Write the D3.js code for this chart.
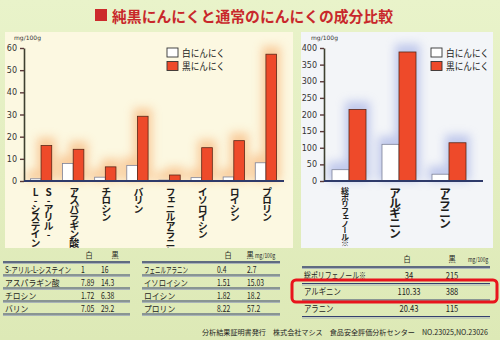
<!DOCTYPE html>
<html>
<head>
<meta charset="utf-8">
<script src="https://cdn.jsdelivr.net/npm/d3@7"></script>
<style>
body { margin: 0; background: #e3efc0; }
svg { display: block; font-family: "Noto Sans CJK JP", sans-serif; }
</style>
</head>
<body>
<script>
// values (mg/100g)
var catsL = ["S-アリル-L-システイン", "アスパラギン酸", "チロシン", "バリン", "フェニルアラニン", "イソロイシン", "ロイシン", "プロリン"];
var whiteL = [1, 7.89, 1.72, 7.05, 0.4, 1.51, 1.82, 8.22];
var blackL = [16, 14.3, 6.38, 29.2, 2.7, 15.03, 18.2, 57.2];
var ticksL = [0, 10, 20, 30, 40, 50, 60];

var catsR = ["総ポリフェノール※", "アルギニン", "アラニン"];
var whiteR = [34, 110.33, 20.43];
var blackR = [215, 388, 115];
var ticksR = [0, 50, 100, 150, 200, 250, 300, 350, 400];

var series = ["白にんにく", "黒にんにく"];
var colHead = ["白", "黒"];
var unit = "mg/100g";
var title = "純黒にんにくと通常のにんにくの成分比較";
var footer = "分析結果証明書発行　株式会社マシス　食品安全評価分析センター　NO.23025,NO.23026";

var width = 500, height = 340;
var redFill = "#ee4a2a", redLine = "#5a2818", whiteLine = "#7d8298";

var svg = d3.select("body").append("svg")
    .attr("width", width)
    .attr("height", height);

var defs = svg.append("defs");
var bg = defs.append("linearGradient").attr("id", "bg")
    .attr("x1", 0).attr("y1", 0).attr("x2", 0).attr("y2", 1);
bg.append("stop").attr("offset", 0).attr("stop-color", "#e9f3ca");
bg.append("stop").attr("offset", 1).attr("stop-color", "#dde9b6");
defs.append("filter").attr("id", "glow")
    .attr("x", "-50%").attr("y", "-50%").attr("width", "200%").attr("height", "200%")
    .append("feGaussianBlur").attr("stdDeviation", 5);
defs.append("clipPath").attr("id", "clipL").append("rect")
    .attr("x", 5).attr("y", 32).attr("width", 288).attr("height", 216);
defs.append("clipPath").attr("id", "clipR").append("rect")
    .attr("x", 301).attr("y", 32).attr("width", 192).attr("height", 216);

svg.append("rect").attr("width", width).attr("height", height).attr("fill", "url(#bg)");

// title
svg.append("rect").attr("x", 95).attr("y", 9).attr("width", 12).attr("height", 12).attr("fill", "#cc2a2c");
svg.append("text").attr("x", 112).attr("y", 22)
    .attr("font-size", 15).attr("font-weight", "bold").attr("fill", "#c8282b")
    .attr("textLength", 281).attr("lengthAdjust", "spacingAndGlyphs")
    .text(title);

// panels
svg.append("rect").attr("x", 5).attr("y", 32).attr("width", 288).attr("height", 216).attr("fill", "#fcf8e1");
svg.append("rect").attr("x", 301).attr("y", 32).attr("width", 192).attr("height", 216).attr("fill", "#f3f5f8");

function drawChart(opt) {
    var g = svg.append("g").attr("clip-path", "url(#" + opt.clip + ")");
    var x = d3.scaleBand().domain(opt.cats).range(opt.xRange)
        .paddingInner(opt.padIn).paddingOuter(opt.padOut);
    var xs = d3.scaleBand().domain(series).range([0, x.bandwidth()]);
    var y = d3.scaleLinear().domain([0, opt.ticks[opt.ticks.length - 1]]).range([181, 48]);

    var rows = opt.cats.map(function (c, i) {
        return { cat: c, vals: [opt.white[i], opt.black[i]] };
    });

    // soft glow behind the bars
    var glow = g.append("g").attr("filter", "url(#glow)").attr("opacity", opt.glowOpacity);
    rows.forEach(function (r) {
        r.vals.forEach(function (v, k) {
            glow.append("rect")
                .attr("x", x(r.cat) + xs(series[k]) - 4)
                .attr("y", y(v) - 8)
                .attr("width", xs.bandwidth() + 8)
                .attr("height", y(0) - y(v) + 8)
                .attr("fill", opt.glowColor);
        });
    });

    // axis
    var ax = g.append("g")
        .attr("transform", "translate(" + opt.xAxis + ",0)")
        .call(d3.axisLeft(y).tickValues(opt.ticks).tickSize(4).tickSizeOuter(0).tickPadding(3));
    ax.select(".domain").attr("stroke", "#3e4030").attr("stroke-width", 1.6);
    ax.selectAll(".tick line").attr("stroke", "#5a3a3a").attr("stroke-width", 1.4);
    ax.selectAll(".tick text").attr("font-family", "DejaVu Sans, sans-serif")
        .attr("font-size", 8).attr("fill", "#333");
    g.append("text").attr("x", opt.unitX).attr("y", 40)
        .attr("font-family", "DejaVu Sans, sans-serif").attr("font-size", 6).attr("fill", "#333")
        .text(unit);

    // bars
    rows.forEach(function (r) {
        r.vals.forEach(function (v, k) {
            g.append("rect")
                .attr("x", x(r.cat) + xs(series[k]))
                .attr("y", y(v))
                .attr("width", xs.bandwidth())
                .attr("height", y(0) - y(v))
                .attr("fill", k ? redFill : "#fff")
                .attr("stroke", k ? redLine : whiteLine)
                .attr("stroke-width", 0.8);
        });
    });

    g.append("line")
        .attr("x1", opt.xAxis).attr("x2", opt.baseEnd)
        .attr("y1", y(0)).attr("y2", y(0))
        .attr("stroke", "#2e3a6a").attr("stroke-width", 1.8);

    // vertical category labels
    opt.cats.forEach(function (c, i) {
        var parts = c.replace("-L-", "-\nL-").split("\n");
        var cx = x(c) + x.bandwidth() / 2 + opt.labelShift;
        parts.forEach(function (p, j) {
            var small = c.indexOf("※") >= 0;
            g.append("text")
                .attr("x", cx - (j - (parts.length - 1) / 2) * 13)
                .attr("y", 187)
                .attr("writing-mode", "vertical-rl")
                .style("text-orientation", "upright")
                .attr("font-size", small ? 8 : opt.labelSize)
                .attr("letter-spacing", small ? -1.5 : opt.labelSpacing)
                .attr("font-weight", "bold")
                .attr("fill", "#1e1e1e")
                .text(p);
        });
    });

    // legend
    series.forEach(function (s, k) {
        var ly = 48 + k * 13.5;
        g.append("rect").attr("x", opt.legendX).attr("y", ly)
            .attr("width", 11).attr("height", 9)
            .attr("fill", k ? redFill : "#fff")
            .attr("stroke", "#333").attr("stroke-width", 0.9);
        g.append("text").attr("x", opt.legendX + 15).attr("y", ly + 8.5)
            .attr("font-size", 10).attr("fill", "#222")
            .attr("textLength", 43).attr("lengthAdjust", "spacingAndGlyphs")
            .text(s);
    });
}

drawChart({
    cats: catsL, white: whiteL, black: blackL, ticks: ticksL, clip: "clipL",
    xRange: [24, 283], padIn: 0.337, padOut: 0.2, xAxis: 24, baseEnd: 284, unitX: 14,
    glowColor: "#f6a25a", glowOpacity: 0.5, labelShift: 1, labelSize: 10, labelSpacing: -1.5,
    legendX: 167
});
drawChart({
    cats: catsR, white: whiteR, black: blackR, ticks: ticksR, clip: "clipR",
    xRange: [316, 482], padIn: 0.32, padOut: 0.32, xAxis: 324, baseEnd: 483, unitX: 311,
    glowColor: "#8f9ee0", glowOpacity: 0.5, labelShift: -4, labelSize: 12, labelSpacing: -2,
    legendX: 431
});

// condensed table text; squeezed further if it would pass maxW
function cText(x, y, str, size, anchor, sx, maxW) {
    var t = svg.append("text")
        .attr("font-size", size)
        .attr("text-anchor", anchor || "start")
        .attr("fill", "#1e1e1e")
        .text(str);
    if (maxW) {
        var len = t.node().getComputedTextLength();
        if (len * sx > maxW) sx = maxW / len;
    }
    t.attr("transform", "translate(" + x + "," + y + ") scale(" + sx + ",1)");
    return t;
}

function ruled(x1, x2, yy, heavy) {
    svg.append("line").attr("x1", x1).attr("x2", x2).attr("y1", yy).attr("y2", yy)
        .attr("stroke", "#34406e").attr("stroke-width", heavy ? 1.6 : 1.1);
    svg.append("line").attr("x1", x1).attr("x2", x2).attr("y1", yy + 1.5).attr("y2", yy + 1.5)
        .attr("stroke", "#9aa5b8").attr("stroke-width", 0.8);
}

function drawTable(t) {
    cText(t.headW, t.yHead, colHead[0], 8, "middle", 0.9);
    cText(t.headB, t.yHead, colHead[1], 8, "middle", 0.9);
    if (t.unitX) cText(t.unitX, t.yHead, unit, 6.5, "start", 0.75);
    ruled(t.x1, t.x2, t.yLine0, true);
    t.names.forEach(function (n, i) {
        var line = t.yLine0 + t.pitch * (i + 1);
        var base = line - t.gap;
        cText(t.x1 + 2, base, n, t.size, "start", t.nameScale, t.nameW);
        cText(t.colW, base, String(t.w[i]), t.size, t.anchor, t.numScale);
        cText(t.colB, base, String(t.b[i]), t.size, t.anchor, t.numScale);
        ruled(t.x1, t.x2, line, false);
    });
}

drawTable({ names: catsL.slice(0, 4), w: whiteL.slice(0, 4), b: blackL.slice(0, 4),
    x1: 3, x2: 130, nameW: 66, colW: 81, colB: 101, anchor: "start",
    size: 8.5, nameScale: 0.92, numScale: 0.8, gap: 2.2,
    headW: 89, headB: 115, yHead: 258, yLine0: 262, pitch: 13 });
drawTable({ names: catsL.slice(4), w: whiteL.slice(4), b: blackL.slice(4),
    x1: 142, x2: 280, nameW: 44, colW: 217, colB: 247, anchor: "start",
    size: 8.5, nameScale: 0.92, numScale: 0.8, gap: 2.2,
    headW: 228, headB: 250, unitX: 255, yHead: 258, yLine0: 262, pitch: 13 });
drawTable({ names: catsR, w: whiteR, b: blackR,
    x1: 302, x2: 490, nameW: 62, colW: 409, colB: 452, anchor: "middle",
    size: 9, nameScale: 0.82, numScale: 0.84, gap: 5,
    headW: 407, headB: 452, unitX: 468, yHead: 262, yLine0: 267, pitch: 16.5 });

// highlight of the arginine row
svg.append("rect").attr("x", 292).attr("y", 280).attr("width", 205).attr("height", 22).attr("rx", 4)
    .attr("fill", "none").attr("stroke", "#e8141c").attr("stroke-width", 3);

// footer
svg.append("text").attr("x", 488).attr("y", 335)
    .attr("text-anchor", "end")
    .attr("font-size", 7.1).attr("fill", "#1e1e1e")
    .text(footer);
</script>
</body>
</html>
